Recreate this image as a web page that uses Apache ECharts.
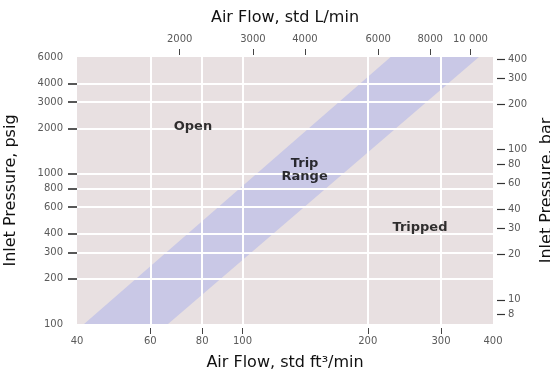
<!DOCTYPE html>
<html>
<head>
<meta charset="utf-8">
<script src="https://cdn.jsdelivr.net/npm/echarts@6/dist/echarts.min.js"></script>
<style>
html, body { margin: 0; padding: 0; background: #fff; }
#chart_1 { width: 550px; height: 375px; }
</style>
</head>
<body>
<div id="chart_1"></div>
<script>
// axis ticks / labels
var cfmTicks = [60, 80, 100, 200, 300];
var cfmLabels = [40, 60, 80, 100, 200, 300, 400];
var lpmTicks = [2000, 3000, 4000, 6000, 8000, 10000];
var psigTicks = [200, 300, 400, 600, 800, 1000, 2000, 3000, 4000];
var psigLabels = [100, 200, 300, 400, 600, 800, 1000, 2000, 3000, 4000, 6000];
var barTicks = [8, 10, 20, 30, 40, 60, 80, 100, 200, 300, 400];

// trip range band corners (std ft3/min, psig)
var bandFlow = [41.6, 66.2, 370, 227];
var bandPsig = [100, 100, 6000, 6000];

// region notes
var noteNames = ['Open', 'Trip\nRange', 'Tripped'];
var noteFlow = [76, 141, 267];
var notePsig = [2050, 1060, 436];

var LPM_PER_CFM = 28.317;
var PSI_PER_BAR = 14.504;
var FLOW_MIN = 40, FLOW_MAX = 400;
var PSIG_MIN = 100, PSIG_MAX = 6000;

var font = 'DejaVu Sans, Liberation Sans, sans-serif';

var dom = document.getElementById('chart_1');
var myChart = echarts.init(dom);

function round(v) { return String(Math.round(v)); }

var labelStyle = { fontSize: 10, color: '#5a5a5a', fontFamily: font };
var nameStyle = { fontSize: 16, color: '#111', fontFamily: font };

var option = {
	backgroundColor: '#fff',
	animation: false,
	grid: {
		left: 77, right: 57, top: 57, bottom: 51,
		outerBoundsMode: 'none',
		containLabel: false,
		show: true,
		backgroundColor: '#e8e0e1',
		borderWidth: 0
	},
	xAxis: [
		{
			type: 'log', logBase: 10, position: 'bottom',
			min: FLOW_MIN, max: FLOW_MAX, offset: 4, z: 2,
			name: 'Air Flow, std ft\u00b3/min', nameLocation: 'middle', nameGap: 27,
			nameTextStyle: nameStyle,
			axisLine: { show: false },
			axisTick: { show: true, length: 6, customValues: cfmTicks, lineStyle: { color: '#444', width: 1 } },
			axisLabel: Object.assign({ margin: 8, customValues: cfmLabels, formatter: round }, labelStyle),
			splitLine: { show: true, lineStyle: { color: '#fff', width: 2 } },
			minorTick: { show: false }
		},
		{
			type: 'log', logBase: 10, position: 'top',
			min: FLOW_MIN * LPM_PER_CFM, max: FLOW_MAX * LPM_PER_CFM, offset: 2, z: 2,
			name: 'Air Flow, std L/min', nameLocation: 'middle', nameGap: 29,
			nameTextStyle: nameStyle,
			axisLine: { show: false },
			axisTick: { show: true, length: 6, customValues: lpmTicks, lineStyle: { color: '#444', width: 1 } },
			axisLabel: Object.assign({
				margin: 11, customValues: lpmTicks,
				formatter: function (v) { v = Math.round(v); return v >= 10000 ? '10 000' : String(v); }
			}, labelStyle),
			splitLine: { show: false }
		}
	],
	yAxis: [
		{
			type: 'log', logBase: 10, position: 'left',
			min: PSIG_MIN, max: PSIG_MAX, z: 2,
			name: 'Inlet Pressure, psig', nameLocation: 'middle', nameGap: 58, nameRotate: 90,
			nameTextStyle: nameStyle,
			axisLine: { show: false },
			axisTick: { show: true, length: 9, customValues: psigTicks, lineStyle: { color: '#222', width: 1.5 } },
			axisLabel: Object.assign({ margin: 14, customValues: psigLabels, formatter: round }, labelStyle),
			splitLine: { show: true, lineStyle: { color: '#fff', width: 2 } }
		},
		{
			type: 'log', logBase: 10, position: 'right',
			min: PSIG_MIN / PSI_PER_BAR, max: PSIG_MAX / PSI_PER_BAR, offset: 4, z: 2,
			name: 'Inlet Pressure, bar', nameLocation: 'middle', nameGap: 42, nameRotate: 90,
			nameTextStyle: nameStyle,
			axisLine: { show: false },
			axisTick: { show: true, length: 8, customValues: barTicks, lineStyle: { color: '#333', width: 1.2 } },
			axisLabel: Object.assign({ margin: 11, customValues: barTicks, formatter: round }, labelStyle),
			splitLine: { show: false }
		}
	],
	series: [
		{
			type: 'custom',
			z: 1,
			xAxisIndex: 0, yAxisIndex: 0,
			data: [[bandFlow[0], bandPsig[0]]],
			renderItem: function (params, api) {
				var pts = bandFlow.map(function (q, i) { return api.coord([q, bandPsig[i]]); });
				return {
					type: 'polygon',
					shape: { points: pts },
					style: { fill: '#c9c8e6' }
				};
			},
			silent: true
		},
		{
			type: 'scatter',
			z: 3,
			xAxisIndex: 0, yAxisIndex: 0,
			symbolSize: 0,
			data: noteNames.map(function (n, i) { return { name: n, value: [noteFlow[i], notePsig[i]] }; }),
			label: {
				show: true, position: 'inside',
				formatter: '{b}',
				fontSize: 13, fontWeight: 'bold', color: '#000', fontFamily: font,
				lineHeight: 13
			},
			silent: true
		}
	]
};

myChart.setOption(option, true);
</script>
</body>
</html>
